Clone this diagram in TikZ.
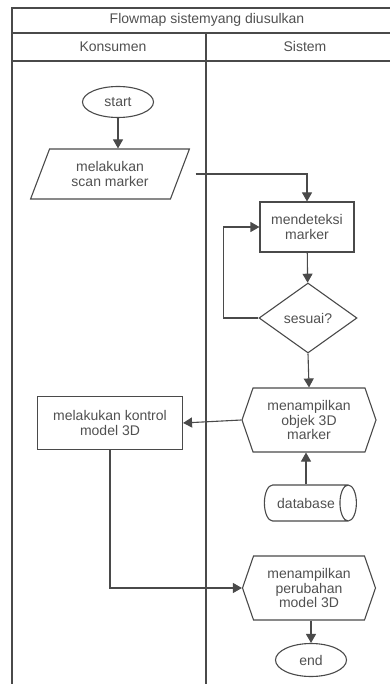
\documentclass[tikz,border=0pt]{standalone}
\usepackage{fontspec}
\setmainfont{Liberation Sans}
\usepackage{tikz}
\usetikzlibrary{shapes,shapes.geometric,shapes.symbols,arrows.meta,positioning}
\definecolor{garis}{HTML}{4A4A4A}
\definecolor{teks}{HTML}{505050}

\begin{document}
\begin{tikzpicture}[x=1pt,y=-1pt,
	>={Triangle[length=9pt,width=10pt]},
	every node/.style={font=\fontsize{14}{14.5}\selectfont, text=teks, align=center, inner sep=0pt},
	flow/.style={draw=garis, line width=1.1pt},
	terminal/.style={flow, ellipse, minimum width=71pt, minimum height=31pt},
	proses/.style={flow, rectangle, minimum width=94pt, minimum height=50pt},
	masukan/.style={flow, trapezium, trapezium left angle=64, trapezium right angle=116, minimum width=159pt, minimum height=50pt, trapezium stretches=true},
	keputusan/.style={flow, diamond, minimum width=98pt, minimum height=70pt},
	tampilan/.style={flow, signal, signal to=east and west, signal pointer angle=142, minimum width=134pt, minimum height=64pt},
	basisdata/.style={flow, cylinder, aspect=1.6, minimum width=36pt, minimum height=92pt}]
	\useasboundingbox (0,0) rectangle (390,684);

	% swimlane
	\draw[flow] (12,684) -- (12,8) -- (402,8) -- (402,684);
	\draw[flow] (12,33) -- (402,33);
	\draw[flow] (12,61) -- (402,61);
	\draw[flow, line width=2pt] (206,33) -- (206,684);
	\node (judul) at (207,20) {Flowmap sistemyang diusulkan};
	\node (konsumen) at (113,47) {Konsumen};
	\node (sistem) at (305,47) {Sistem};

	% konsumen
	\node[terminal] (start) at (118,102) {start};
	\node[masukan] (scan) at (110,174) {melakukan\\scan marker};
	\node[proses, minimum width=145pt, minimum height=53pt] (kontrol) at (110,423) {melakukan kontrol\\model 3D};

	% sistem
	\node[proses] (deteksi) at (307,227) {mendeteksi\\marker};
	\node[keputusan] (sesuai) at (308,318) {sesuai?};
	\node[tampilan] (tampil) at (309,420) {menampilkan\\objek 3D\\marker};
	\node[basisdata] (db) at (306,503) {database};
	\node[tampilan, minimum width=133pt] (ubah) at (309,588) {menampilkan\\perubahan\\model 3D};
	\node[terminal, minimum height=33pt] (akhir) at (311,660) {end};

	\draw[flow, ->] (start) -- (start |- scan.north);
	\draw[flow, ->] ([xshift=15pt]scan.east) -| (deteksi.north);
	\draw[flow, ->] (deteksi) -- (sesuai);
	\draw[flow, ->] (sesuai.west) -- ++(-35,0) |- (deteksi.west);
	\draw[flow, ->] (sesuai.south) -- (tampil.north);
	\draw[flow, ->] (tampil.west) -- (kontrol.east);
	\draw[flow, ->] (db.north) -- (db.north |- tampil.south);
	\draw[flow, ->] (kontrol.south) |- (ubah.west);
	\draw[flow, ->] (ubah.south -| akhir.north) -- (akhir.north);
\end{tikzpicture}
\end{document}
